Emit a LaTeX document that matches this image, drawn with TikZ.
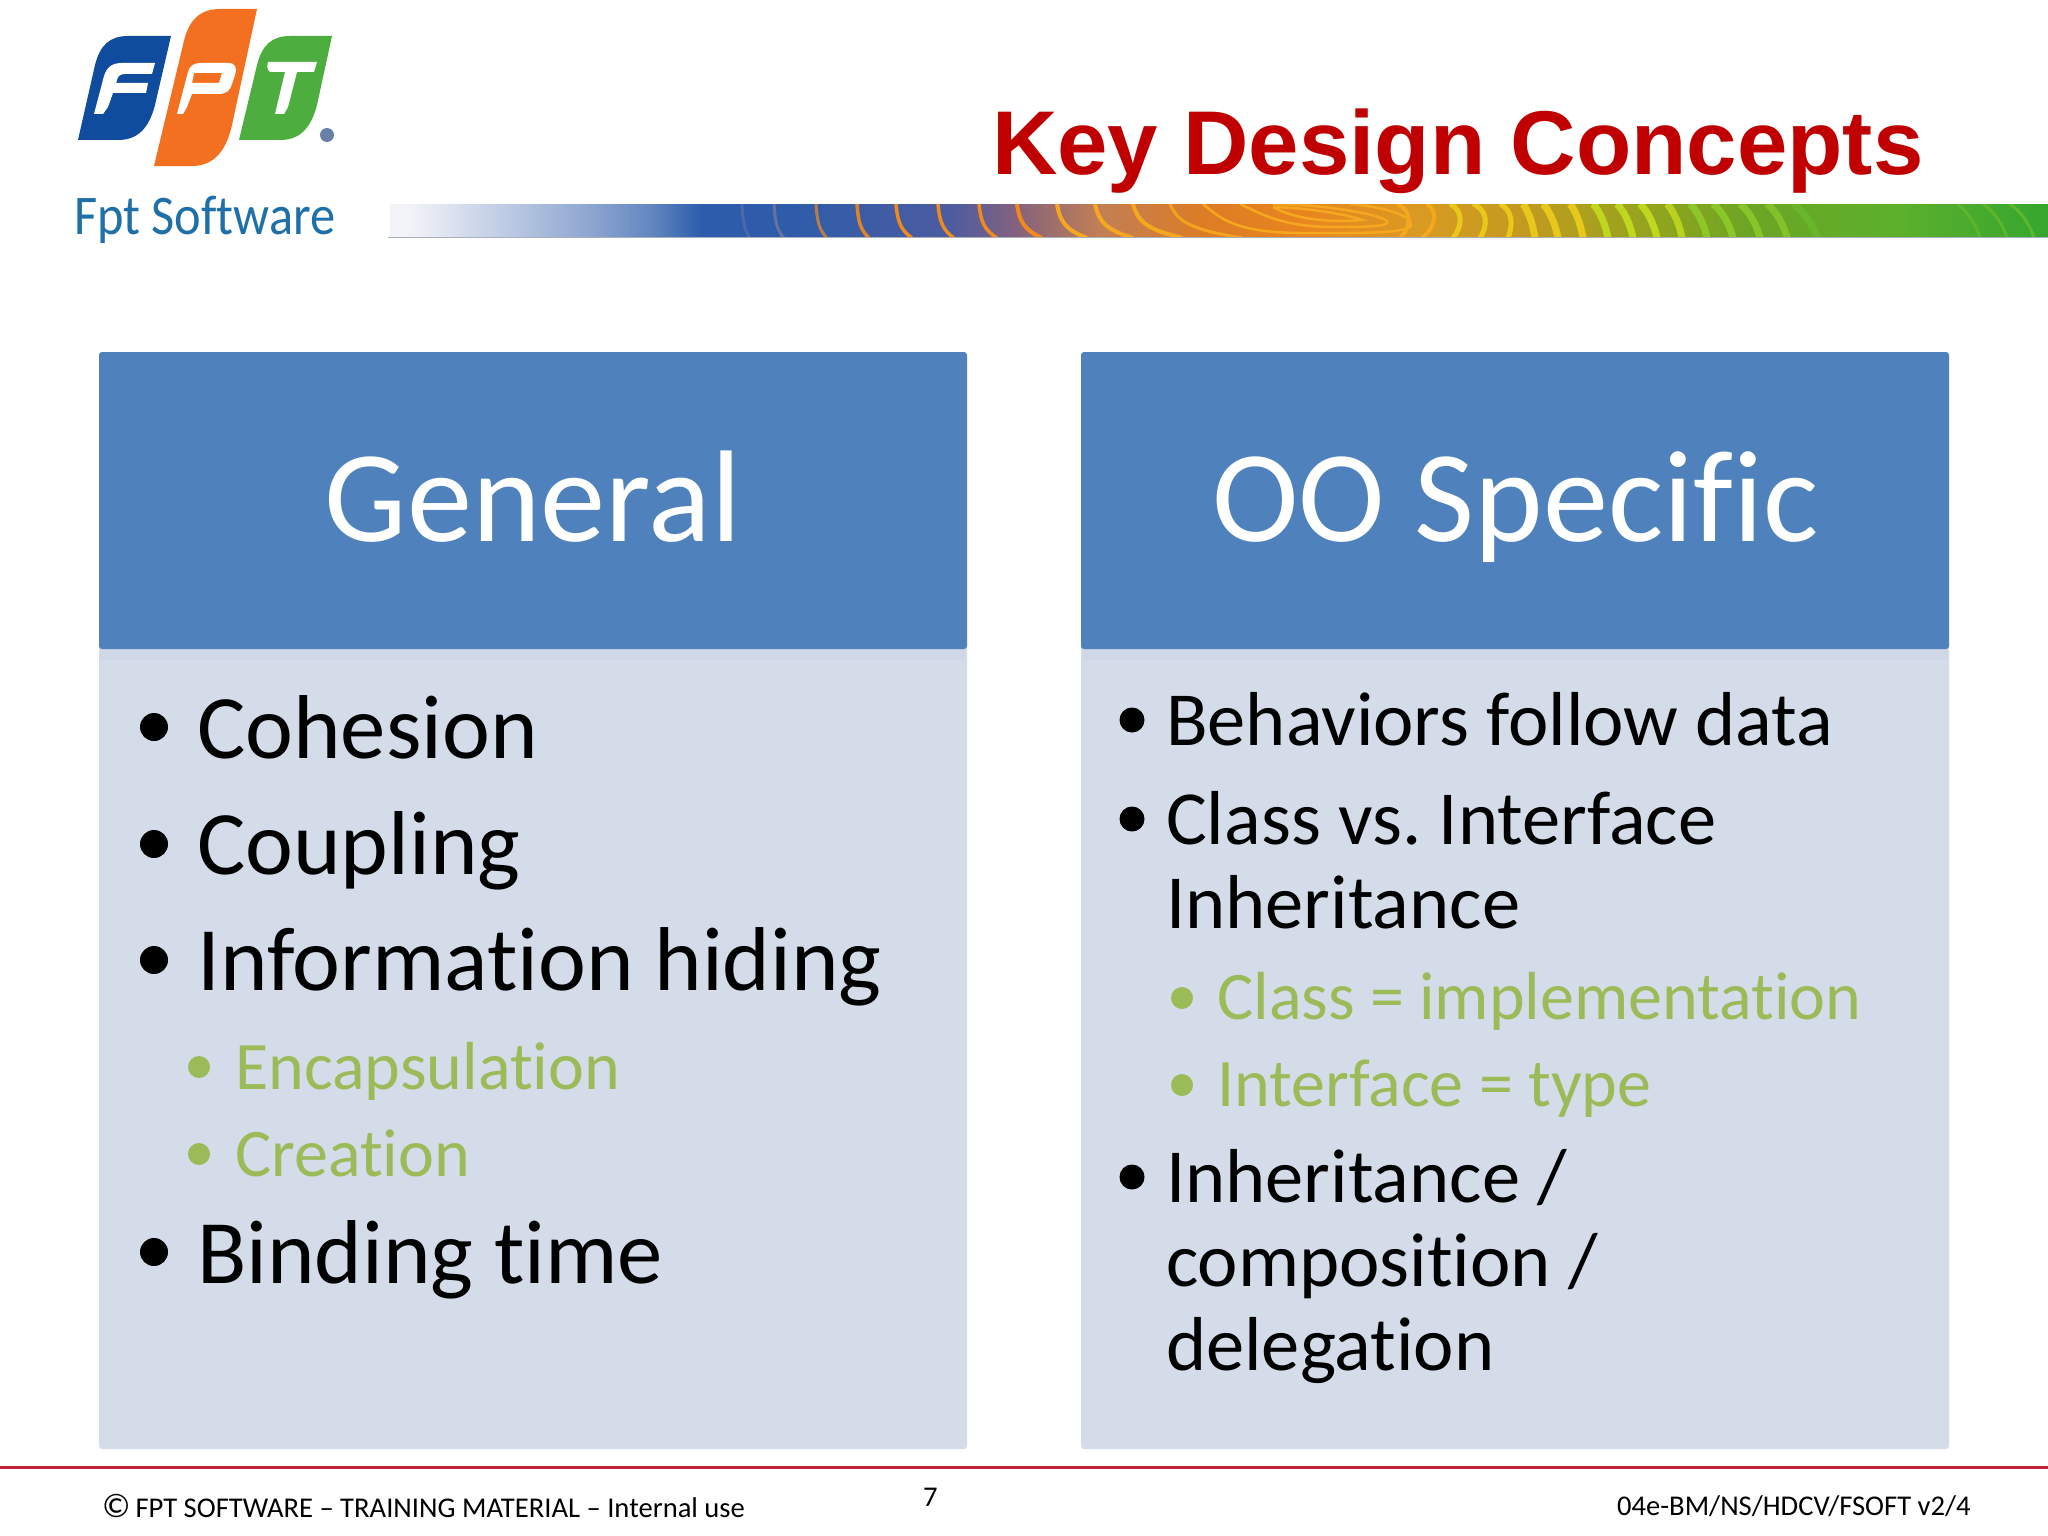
\documentclass[tikz,border=0pt]{standalone}
\usepackage{fontspec}
\setmainfont[Ligatures=NoCommon]{Carlito}
\newfontfamily\titlefont{Liberation Sans}
\definecolor{hdr}{HTML}{4F81BD}
\definecolor{bodyc}{HTML}{D5DCE9}
\definecolor{stripc}{HTML}{D0D7E6}
\definecolor{subc}{HTML}{9BBB59}
\definecolor{titlec}{HTML}{C00000}
\definecolor{fblue}{HTML}{0F4C9E}
\definecolor{forange}{HTML}{F37021}
\definecolor{fgreen}{HTML}{4DAE3F}
\definecolor{ftext}{HTML}{1F6FA8}
\definecolor{fmark}{HTML}{6A7FA5}
\definecolor{footline}{HTML}{C8203C}
\definecolor{ba}{HTML}{F2F3F7}\definecolor{bb}{HTML}{C8D3E8}\definecolor{bc}{HTML}{8CA5D0}
\definecolor{bd}{HTML}{6286C0}\definecolor{be}{HTML}{2C5CAB}\definecolor{bf}{HTML}{2F5CA9}
\definecolor{bg}{HTML}{4C5CA0}\definecolor{bh}{HTML}{85627E}\definecolor{bi}{HTML}{C27F55}
\definecolor{bj}{HTML}{DC7C25}\definecolor{bk}{HTML}{E8851F}\definecolor{bl}{HTML}{D99A22}
\definecolor{bm}{HTML}{C49A20}\definecolor{bn}{HTML}{94A41E}\definecolor{bo}{HTML}{6CA524}
\definecolor{bp}{HTML}{5CB02C}\definecolor{bq}{HTML}{35A62E}
\definecolor{rfade}{HTML}{8B7FA0}\definecolor{rorange}{HTML}{F08A1E}\definecolor{rgold}{HTML}{F5A81F}
\definecolor{ryellow}{HTML}{E8C81A}\definecolor{rlime}{HTML}{BFD81F}\definecolor{rgreen}{HTML}{8FCB2B}
\definecolor{rfaint}{HTML}{6CBF2E}
\definecolor{bannerline}{HTML}{A9B0BC}
\pgfdeclarehorizontalshading{bannershade}{100bp}{
color(0bp)=(ba);
color(25bp)=(ba);
color(25.6bp)=(ba);
color(27.9bp)=(bb);
color(31.1bp)=(bc);
color(32.9bp)=(bd);
color(34.4bp)=(be);
color(37.3bp)=(bf);
color(41.9bp)=(bg);
color(43.9bp)=(bh);
color(46.4bp)=(bi);
color(49.5bp)=(bj);
color(52.5bp)=(bk);
color(56bp)=(bl);
color(59.1bp)=(bm);
color(63bp)=(bn);
color(66bp)=(bo);
color(70.5bp)=(bp);
color(75bp)=(bq);
color(100bp)=(bq)}
\tikzset{
 x=1pt,y=-1pt,
 hdrbox/.style={fill=hdr,rounded corners=3pt},
 bodybox/.style={fill=bodyc,rounded corners=3pt},
 headtext/.style={text=white,font=\fontsize{130.5}{130}\selectfont,anchor=base},
 lvlA/.style={anchor=base west,inner sep=0pt,font=\fontsize{90.7}{90.5}\selectfont},
 lvlB/.style={anchor=base west,inner sep=0pt,font=\fontsize{76.5}{76.5}\selectfont},
 subitem/.style={anchor=base west,inner sep=0pt,text=subc,font=\fontsize{68}{67.8}\selectfont},
 bul/.style={circle,fill=black,inner sep=0pt,minimum size=28pt},
 rbul/.style={circle,fill=black,inner sep=0pt,minimum size=25pt},
 subbul/.style={circle,fill=subc,inner sep=0pt,minimum size=22pt},
 foot/.style={anchor=base west,inner sep=0pt,font=\fontsize{28.6}{28.6}\selectfont},
}
\begin{document}
\begin{tikzpicture}
\useasboundingbox[fill=white] (0,0) rectangle (2048,1536);
% logo
\fill[fblue] (78,140) -- (95,65) .. controls (100,45) and (110,36) .. (128,36) -- (171,36) -- (155,105) .. controls (149,128) and (138,140) .. (118,140) -- cycle;
\fill[forange] (154,166) -- (183,45) .. controls (188,20) and (200,9) .. (220,9) -- (257,9) -- (232,125) .. controls (226,152) and (213,166) .. (192,166) -- cycle;
\fill[fgreen] (239,140) -- (257,65) .. controls (262,45) and (272,36) .. (290,36) -- (332,36) -- (317,105) .. controls (311,128) and (300,140) .. (280,140) -- cycle;
\fill[white] (94,114) -- (104,76) .. controls (107,67) and (112,63) .. (122,63) -- (155,63) -- (152,74) -- (125,74) .. controls (120,74) and (118,76) .. (117,80) -- (116,83) -- (148,83) -- (146,93) -- (113,93) -- (108,107) -- (103,114) -- cycle;
\fill[white,even odd rule] (177,114) -- (188,72) .. controls (190,65) and (194,63) .. (202,63) -- (228,63) .. controls (236,63) and (237,68) .. (235,75) -- (232,84) .. controls (230,91) and (226,94) .. (218,94) -- (192,94) -- (187,107) -- (183,114) -- cycle
 (194,73) -- (192,83) -- (219,83) -- (222,73) -- cycle;
\fill[white] (268,62) -- (317,62) -- (314,72) -- (297,72) -- (288,107) -- (284,114) -- (275,114) -- (285,72) -- (270,72) .. controls (267,70) and (267,66) .. (268,62) -- cycle;
\fill[fmark] (327,135) circle (7);
\node[inner sep=0pt,anchor=base west,text=ftext,xscale=0.9,font=\fontsize{56}{56}\selectfont] (logotext) at (74,234) {Fpt Software};
% banner
\begin{scope}
 \clip (390,204) rectangle (2048,237);
 \shade[shading=bannershade] (390,204) rectangle (2048,237);
 \foreach \t/\b/\c/\w/\o in {742/750/rfade/3/0.35,774/784/rfade/3/0.6,816/827/rorange/3/0.7,857/869/rorange/3.5/0.9,896/912/rorange/3.5/1,938/954/rorange/3.5/1,979/997/rorange/3.5/1,1017/1042/rorange/4/1,1057/1087/rgold/4/1,1095/1133/rgold/4/1,1133/1183/rgold/4/1,1170/1243/rgold/3/0.9}{
  \pgfmathsetmacro\da{\t+0.1*(\b-\t)}
  \pgfmathsetmacro\db{\t+0.3*(\b-\t)}
  \draw[\c,line width=\w pt,opacity=\o] (\t,204) .. controls (\da,222) and (\db,230) .. (\b,238);
 }
 \draw[rgold,line width=2.5pt] (1273,207) .. controls (1310,208) and (1350,215) .. (1362,220) .. controls (1340,222) and (1300,222) .. (1273,207);
 \draw[rgold,line width=2.5pt] (1240,204) .. controls (1262,214) and (1280,226) .. (1330,227) .. controls (1360,227) and (1392,227) .. (1387,221) .. controls (1380,214) and (1320,204) .. (1273,204);
 \draw[rgold,line width=2.5pt] (1203,204) .. controls (1220,218) and (1235,234) .. (1310,233) .. controls (1350,233) and (1405,234) .. (1411,226) .. controls (1414,216) and (1385,207) .. (1350,204);
 \foreach \t/\m/\b/\c/\w in {1397/1412/1400/rgold/4,1427/1437/1422/rgold/4,1450/1463/1453/ryellow/5,1473/1488/1480/ryellow/5,1500/1513/1508/ryellow/5}{
  \draw[\c,line width=\w pt] (\t,204) .. controls (\m,210) and (\m,226) .. (\b,238);
 }
 \foreach \t/\b/\c/\w/\o in {1523/1535/ryellow/7/1,1543/1558/ryellow/7/1,1570/1583/ryellow/7/1,1593/1608/rlime/7/1,1617/1633/rlime/7/1,1640/1657/rlime/7/1,1667/1682/rlime/7/0.9,1690/1707/rgreen/7/0.9,1713/1733/rgreen/7/0.9,1740/1760/rgreen/7/0.8,1767/1787/rgreen/7/0.7,1793/1817/rfaint/7/0.6,1957/1980/rfaint/3/0.5,1983/2007/rfaint/3/0.6,2010/2034/rfaint/3/0.7}{
  \pgfmathsetmacro\da{\t+0.5*(\b-\t)}
  \pgfmathsetmacro\db{\t+0.85*(\b-\t)}
  \draw[\c,line width=\w pt,opacity=\o] (\t,204) .. controls (\da,212) and (\db,226) .. (\b,238);
 }
\end{scope}
\fill[bannerline] (388,236.5) rectangle (2048,238);
% title
\node[anchor=base west,inner sep=0pt,text=titlec,font=\titlefont\bfseries\fontsize{90.6}{90.8}\selectfont] (title) at (992,175) {Key Design Concepts};
% boxes
\fill[bodybox] (99,640) rectangle (967,1449);
\fill[bodybox] (1081,640) rectangle (1949,1449);
\fill[stripc] (100,649) rectangle (966,660);
\fill[stripc] (1082,649) rectangle (1948,660);
\fill[hdrbox] (99,352) rectangle (967,649);
\fill[hdrbox] (1081,352) rectangle (1949,649);
\node[headtext] (genhead) at (533,541) {General};
\node[headtext] (oohead) at (1515.5,541) {OO Specific};
% left column
\node[bul] (b1) at (154,727) {};
\node[lvlA] (l1) at (197,758) {Cohesion};
\node[bul] (b2) at (154,844) {};
\node[lvlA] (l2) at (197,874.5) {Coupling};
\node[bul] (b3) at (154,960) {};
\node[lvlA] (l3) at (197,990.5) {Information hiding};
\node[subbul] (s1) at (199,1067) {};
\node[subitem] (l4) at (235,1089) {Encapsulation};
\node[subbul] (s2) at (199,1154) {};
\node[subitem] (l5) at (235,1176) {Creation};
\node[bul] (b4) at (154,1252) {};
\node[lvlA] (l6) at (197,1283.5) {Binding time};
% right column
\node[rbul] (rb1) at (1132,720) {};
\node[lvlB] (r1) at (1166,745.5) {Behaviors follow data};
\node[rbul] (rb2) at (1132,819) {};
\node[lvlB] (r2) at (1166,844.5) {Class vs.\ Interface};
\node[lvlB] (r3) at (1166,928.5) {Inheritance};
\node[subbul] (rs1) at (1182,998) {};
\node[subitem] (r4) at (1217,1019) {Class = implementation};
\node[subbul] (rs2) at (1182,1085) {};
\node[subitem] (r5) at (1217,1106.5) {Interface = type};
\node[rbul] (rb3) at (1132,1177) {};
\node[lvlB] (r6) at (1166,1202.5) {Inheritance /};
\node[lvlB] (r7) at (1166,1286) {composition /};
\node[lvlB] (r8) at (1166,1370.5) {delegation};
% footer
\fill[footline] (0,1466) rectangle (2048,1469);
\node[foot] (f1) at (102,1517) {{\fontsize{34}{34}\selectfont\textcopyright}\hspace{5pt}FPT SOFTWARE – TRAINING MATERIAL – Internal use};
\node[foot] (f2) at (923,1506) {7};
\node[foot] (f3) at (1617,1515) {04e-BM/NS/HDCV/FSOFT v2/4};
\end{tikzpicture}
\end{document}
